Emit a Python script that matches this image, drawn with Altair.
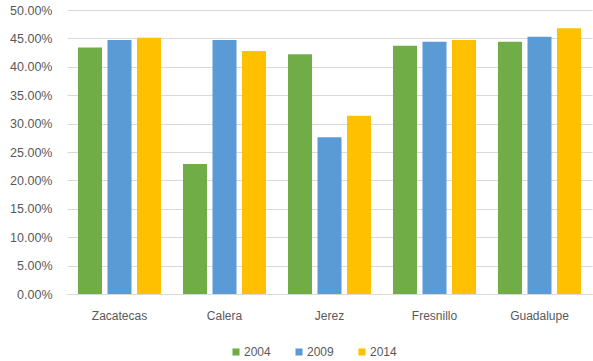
import altair as alt
import pandas as pd

cities = ["Zacatecas", "Calera", "Jerez", "Fresnillo", "Guadalupe"]
years = ["2004", "2009", "2014"]
v2004 = [0.434, 0.229, 0.422, 0.437, 0.444]
v2009 = [0.447, 0.447, 0.276, 0.444, 0.453]
v2014 = [0.451, 0.428, 0.314, 0.447, 0.468]
colors = ["#70AD47", "#5B9BD5", "#FFC000"]
ticks = [0.0, 0.05, 0.10, 0.15, 0.20, 0.25, 0.30, 0.35, 0.40, 0.45, 0.50]

rows = []
for i, c in enumerate(cities):
    for y, vals in zip(years, [v2004, v2009, v2014]):
        rows.append({"city": c, "year": y, "value": vals[i]})
df = pd.DataFrame(rows)

font = "Liberation Sans"
chart = alt.Chart(df).mark_bar().encode(
    x=alt.X("city:N", sort=cities, title=None,
            scale=alt.Scale(paddingInner=0, paddingOuter=0),
            axis=alt.Axis(labelAngle=0, ticks=False, domain=True, domainColor="#D9D9D9",
                          labelPadding=16, labelFontSize=12, labelColor="#595959", labelFont=font)),
    xOffset=alt.XOffset("year:N", sort=years, scale=alt.Scale(paddingInner=0.186, paddingOuter=0.373)),
    y=alt.Y("value:Q", title=None,
            scale=alt.Scale(domain=[0, 0.5]),
            axis=alt.Axis(format=".2%", values=ticks, labelOverlap=False,
                          ticks=False, domain=False, gridColor="#D9D9D9",
                          labelPadding=15, labelFontSize=12.5, labelColor="#595959", labelFont=font)),
    color=alt.Color("year:N", sort=years, scale=alt.Scale(domain=years, range=colors),
                    legend=alt.Legend(title=None, orient="none", direction="horizontal",
                                      legendX=163, legendY=336, symbolType="square", symbolSize=50,
                                      symbolStrokeWidth=0, labelFontSize=12, labelColor="#595959",
                                      labelFont=font, columnPadding=22, labelOffset=2)),
).properties(
    width=525, height=284,
    autosize=alt.AutoSizeParams(type="none"),
    padding={"left": 67, "top": 10, "right": 1, "bottom": 67},
).configure_view(stroke=None).configure_axisX(grid=False)

chart.save("out.html", embed_options={"renderer": "svg", "actions": False})
